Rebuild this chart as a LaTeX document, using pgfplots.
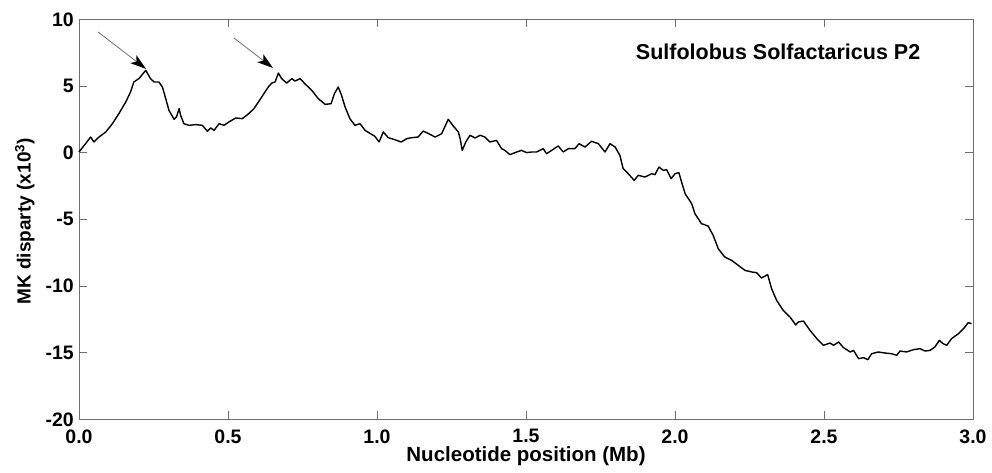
\documentclass[border=0pt]{standalone}
\usepackage{pgfplots}
\pgfplotsset{compat=1.18}
\usepackage{fontspec}
\setmainfont{Liberation Sans}
\usetikzlibrary{arrows.meta}
\definecolor{axgray}{RGB}{110,110,110}
\begin{document}
\begin{tikzpicture}
\path[use as bounding box] (-79pt,-53pt) rectangle (913pt,419.3pt);
\begin{axis}[
  scale only axis,
  width=894pt, height=400pt,
  xmin=0, xmax=3, ymin=-20, ymax=10,
  xtick={0,0.5,1,1.5,2,2.5,3},
  ytick={-20,-15,-10,-5,0,5,10},
  tick align=inside,
  major tick length=8pt,
  axis line style={axgray, line width=0.8pt},
  every tick/.style={axgray, line width=0.8pt},
  /pgf/number format/assume math mode=true,
  x tick label style={/pgf/number format/fixed, /pgf/number format/precision=1, /pgf/number format/zerofill},
  xticklabel style={font=\bfseries\fontsize{19.5}{20}\selectfont, inner sep=0pt, yshift=-10pt},
  yticklabel style={font=\bfseries\fontsize{19.5}{20}\selectfont, inner sep=0pt, xshift=-5pt},
  every axis x label/.style={at={(axis description cs:0.5,-0.093)}, anchor=center, font=\bfseries\fontsize{20.5}{22}\selectfont},
  every axis y label/.style={at={(axis description cs:-0.0605,0.495)}, rotate=90, anchor=center, font=\bfseries\fontsize{19}{22}\selectfont},
  xlabel={Nucleotide position (Mb)},
  ylabel={MK disparty (x10\textsuperscript{3})},
  clip=false,
]
\addplot[black, line width=1.4pt, line join=round] table[row sep=\\] {
x y\\
0.000 0.05\\ 0.022 0.67\\ 0.039 1.17\\ 0.050 0.80\\ 0.067 1.17\\ 0.090 1.55\\
0.112 2.17\\ 0.134 2.93\\ 0.157 3.80\\ 0.173 4.55\\ 0.184 5.30\\ 0.201 5.55\\
0.224 6.17\\ 0.240 5.55\\ 0.252 5.30\\ 0.268 5.30\\ 0.280 4.92\\ 0.291 4.05\\
0.302 3.17\\ 0.319 2.50\\ 0.327 2.67\\ 0.336 3.30\\ 0.341 2.80\\ 0.352 2.17\\
0.369 2.05\\ 0.392 2.10\\ 0.414 2.05\\ 0.431 1.60\\ 0.442 1.85\\ 0.453 1.67\\
0.470 2.17\\ 0.487 2.05\\ 0.503 2.30\\ 0.526 2.60\\ 0.548 2.55\\ 0.570 2.93\\
0.587 3.30\\ 0.613 4.17\\ 0.635 4.92\\ 0.647 5.22\\ 0.658 5.30\\ 0.669 5.97\\
0.680 5.55\\ 0.697 5.22\\ 0.714 5.55\\ 0.725 5.37\\ 0.742 5.55\\ 0.758 5.17\\
0.781 4.67\\ 0.803 4.05\\ 0.826 3.62\\ 0.846 3.67\\ 0.857 4.42\\ 0.870 4.92\\
0.881 4.30\\ 0.893 3.42\\ 0.909 2.55\\ 0.926 2.05\\ 0.943 2.17\\ 0.960 1.67\\
0.982 1.37\\ 0.993 1.22\\ 1.007 0.80\\ 1.021 1.55\\ 1.038 1.12\\ 1.060 0.97\\
1.081 0.80\\ 1.100 1.05\\ 1.116 1.12\\ 1.138 1.17\\ 1.155 1.62\\ 1.178 1.37\\
1.195 1.17\\ 1.217 1.42\\ 1.239 2.50\\ 1.256 2.00\\ 1.273 1.55\\ 1.279 1.05\\
1.286 0.17\\ 1.298 0.80\\ 1.312 1.30\\ 1.329 1.10\\ 1.346 1.30\\ 1.362 1.17\\
1.379 0.80\\ 1.401 0.92\\ 1.418 0.30\\ 1.429 0.17\\ 1.446 -0.15\\ 1.469 0.05\\
1.485 0.17\\ 1.502 0.00\\ 1.519 0.05\\ 1.536 0.05\\ 1.558 0.30\\ 1.569 -0.08\\
1.586 0.17\\ 1.608 0.50\\ 1.625 0.05\\ 1.642 0.30\\ 1.664 0.30\\ 1.678 0.67\\
1.698 0.42\\ 1.720 0.85\\ 1.743 0.67\\ 1.765 0.05\\ 1.782 0.67\\ 1.799 0.42\\
1.815 -0.20\\ 1.826 -1.20\\ 1.843 -1.58\\ 1.863 -2.08\\ 1.877 -1.70\\ 1.899 -1.83\\
1.922 -1.58\\ 1.933 -1.65\\ 1.946 -1.08\\ 1.961 -1.33\\ 1.972 -1.28\\ 1.987 -1.95\\
2.000 -1.58\\ 2.013 -1.50\\ 2.022 -2.20\\ 2.034 -3.08\\ 2.056 -3.83\\ 2.067 -4.58\\
2.089 -5.33\\ 2.111 -5.50\\ 2.128 -6.20\\ 2.145 -7.20\\ 2.167 -7.83\\ 2.190 -8.08\\
2.212 -8.45\\ 2.235 -8.83\\ 2.257 -8.95\\ 2.274 -9.00\\ 2.290 -9.40\\ 2.311 -9.15\\
2.324 -10.20\\ 2.341 -11.08\\ 2.363 -11.83\\ 2.386 -12.33\\ 2.405 -12.92\\ 2.414 -12.70\\
2.431 -12.63\\ 2.453 -13.33\\ 2.476 -13.95\\ 2.498 -14.45\\ 2.520 -14.28\\ 2.532 -14.45\\
2.549 -14.20\\ 2.565 -14.62\\ 2.588 -14.95\\ 2.599 -14.83\\ 2.616 -15.45\\ 2.633 -15.38\\
2.647 -15.53\\ 2.660 -15.08\\ 2.682 -14.95\\ 2.705 -15.03\\ 2.727 -15.08\\ 2.744 -15.20\\
2.755 -14.88\\ 2.777 -14.95\\ 2.800 -14.78\\ 2.822 -14.70\\ 2.839 -14.88\\ 2.856 -14.83\\
2.872 -14.58\\ 2.887 -14.08\\ 2.900 -14.33\\ 2.912 -14.45\\ 2.928 -13.95\\ 2.951 -13.58\\
2.973 -13.08\\ 2.984 -12.75\\ 2.995 -12.83\\
};
\draw[axgray, line width=0.8pt, -{Stealth[black, length=16pt, width=10pt, inset=4pt]}] (axis cs:0.064,9.05) -- (axis cs:0.225,6.28);
\draw[axgray, line width=0.8pt, -{Stealth[black, length=16pt, width=10pt, inset=4pt]}] (axis cs:0.52,8.6) -- (axis cs:0.651,6.35);
\node[font=\bfseries\fontsize{21.5}{23}\selectfont, anchor=center] at (axis description cs:0.782,0.918) {Sulfolobus Solfactaricus P2};
\end{axis}
\end{tikzpicture}
\end{document}
